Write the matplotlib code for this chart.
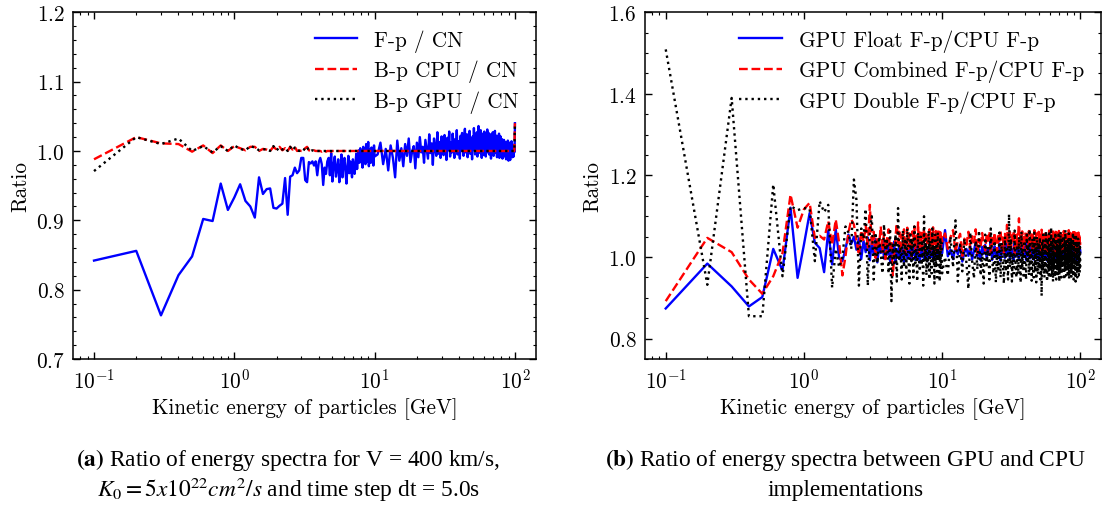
import numpy as np
import matplotlib
matplotlib.use("Agg")
import matplotlib.pyplot as plt
from matplotlib.ticker import AutoMinorLocator

# energy grids [GeV]
energy_fine = np.arange(1, 101) / 10.0        # 0.1 .. 10.0
energy_coarse = np.arange(21, 201) / 2.0      # 10.5 .. 100.0
energy_all = np.concatenate([energy_fine, energy_coarse])
energy_bp = np.concatenate([energy_fine[:50], [7, 10, 20, 40, 70, 99, 100]])

# ---- (a) ratios to CN ----
fp_cn = [
    0.842, 0.856, 0.763, 0.821, 0.848, 0.902, 0.899, 0.953, 0.915, 0.933,
    0.952, 0.928, 0.920, 0.904, 0.962, 0.938, 0.945, 0.946, 0.918, 0.917,
    0.921, 0.924, 0.961, 0.908, 0.963, 0.965, 0.976, 0.968, 0.972, 0.990,
    0.990, 0.958, 0.955, 0.984, 0.982, 0.985, 0.979, 0.985, 0.965, 0.984,
    0.990, 0.981, 0.951, 0.976, 0.967, 0.985, 0.990, 0.965, 0.997, 0.956,
    0.980, 0.992, 0.963, 0.975, 0.988, 0.955, 0.971, 0.995, 0.962, 0.984,
    0.990, 0.970, 0.953, 0.978, 0.993, 0.968, 0.985, 0.975, 0.962, 0.988,
    0.979, 0.967, 0.982, 0.996, 0.974, 0.990, 1.001, 0.983, 1.004, 0.987,
    0.995, 0.976, 1.006, 0.990, 0.999, 0.981, 1.010, 0.992, 0.985, 1.013,
    0.978, 1.002, 0.994, 0.983, 1.005, 0.989, 0.998, 0.979, 1.008, 0.992,
    0.995, 1.012, 0.981, 1.003, 0.972, 1.008, 0.990, 0.962, 1.015, 0.986,
    1.004, 0.978, 1.010, 0.993, 1.018, 0.984, 0.999, 1.007, 0.975, 1.012,
    0.991, 1.020, 0.998, 1.006, 0.983, 1.016, 1.002, 0.989, 1.024, 0.997,
    1.011, 0.980, 1.018, 1.004, 0.993, 1.027, 0.996, 1.013, 0.990, 1.021,
    1.005, 0.994, 1.023, 1.009, 0.987, 1.019, 1.001, 1.028, 0.992, 1.012,
    0.998, 1.025, 1.006, 0.990, 1.017, 1.003, 1.030, 0.995, 1.014, 1.008,
    0.989, 1.022, 1.000, 1.026, 1.007, 0.993, 1.019, 1.032, 0.998, 1.011,
    1.024, 0.991, 1.015, 1.004, 1.029, 0.996, 1.018, 1.009, 0.988, 1.021,
    1.002, 1.033, 1.010, 0.995, 1.023, 1.006, 1.027, 0.992, 1.016, 1.036,
    1.003, 1.020, 0.997, 1.030, 1.011, 0.990, 1.025, 1.005, 1.019, 0.994,
    1.028, 1.008, 1.014, 0.992, 1.022, 1.001, 1.031, 0.998, 1.012, 1.026,
    0.995, 1.017, 1.004, 1.024, 0.989, 1.013, 1.020, 0.999, 1.027, 1.006,
    0.993, 1.018, 1.009, 1.029, 0.997, 1.015, 1.002, 1.022, 0.991, 1.011,
    1.019, 0.996, 1.008, 1.025, 0.990, 1.014, 1.003, 1.021, 0.994, 1.010,
    1.001, 1.017, 0.989, 1.012, 1.006, 0.995, 1.016, 0.999, 1.009, 0.992,
    1.013, 1.002, 0.988, 1.011, 0.997, 1.007, 0.990, 1.015, 1.000, 0.986,
    1.008, 0.994, 1.012, 0.999, 0.987, 1.010, 1.003, 0.993, 1.014, 0.998,
    1.006, 0.991, 1.009, 0.996, 1.004, 0.992, 1.007, 0.998, 1.002, 1.040,
]
bp_cpu_cn = [
    0.988, 1.020, 1.011, 1.010, 0.999, 1.008, 0.997, 1.008, 1.000, 1.007,
    1.004, 1.001, 1.006, 1.006, 1.000, 1.003, 1.002, 1.000, 1.006, 1.002,
    1.006, 1.001, 1.004, 1.000, 1.006, 1.002, 1.006, 1.000, 1.001, 1.000,
    1.000, 1.004, 1.006, 1.001, 1.000, 1.000, 1.001, 1.000, 1.000, 1.000,
    1.000, 0.999, 1.000, 1.000, 0.999, 1.000, 1.000, 1.000, 0.999, 1.000,
    1.000, 1.000, 1.000, 1.000, 1.000, 1.000, 1.040,
]
bp_gpu_cn = [
    0.971, 1.020, 1.010, 1.018, 1.000, 1.007, 0.998, 1.007, 1.000, 1.008,
    1.003, 1.001, 1.007, 1.005, 1.001, 1.002, 1.003, 1.000, 1.007, 1.001,
    1.005, 1.002, 1.004, 1.000, 1.006, 1.001, 1.005, 1.001, 1.000, 1.001,
    1.000, 1.005, 1.006, 1.000, 1.000, 1.001, 1.000, 1.000, 1.000, 1.000,
    1.000, 1.000, 1.000, 1.000, 1.000, 1.000, 1.000, 1.000, 1.000, 1.000,
    1.000, 1.000, 1.000, 1.000, 1.000, 1.000, 1.038,
]

# ---- (b) GPU / CPU F-p ----
gpu_float = [
    0.874, 0.984, 0.928, 0.879, 0.902, 1.020, 0.967, 1.121, 0.949, 1.030,
    1.108, 1.035, 1.022, 0.963, 1.065, 0.982, 1.068, 0.998, 0.990, 1.020,
    1.055, 1.032, 1.050, 1.018, 1.046, 0.995, 1.040, 1.012, 1.048, 0.992,
    1.035, 1.005, 1.044, 0.987, 1.028, 1.010, 1.041, 0.996, 1.022, 1.006,
    1.033, 0.990, 1.025, 1.008, 1.038, 0.985, 1.019, 1.002, 1.030, 0.994,
    1.027, 1.005, 0.988, 1.034, 1.012, 0.996, 1.024, 1.003, 1.040, 0.991,
    1.018, 1.006, 1.029, 0.993, 1.015, 1.036, 0.999, 1.021, 0.987, 1.011,
    1.026, 1.002, 1.017, 0.995, 1.031, 1.008, 1.020, 0.990, 1.013, 1.004,
    1.023, 0.998, 1.010, 1.028, 1.001, 1.016, 0.992, 1.022, 1.007, 1.014,
    0.996, 1.019, 1.005, 1.027, 0.999, 1.011, 1.024, 1.002, 1.015, 1.009,
    1.066, 1.002, 1.018, 0.995, 1.024, 1.007, 1.031, 0.989, 1.012, 1.020,
    1.003, 1.027, 0.994, 1.015, 1.038, 1.001, 1.019, 0.992, 1.025, 1.008,
    1.030, 0.997, 1.021, 1.009, 1.042, 0.993, 1.014, 1.026, 1.000, 1.017,
    1.005, 1.033, 0.991, 1.019, 1.010, 1.028, 0.998, 1.036, 1.004, 1.016,
    1.022, 0.995, 1.029, 1.007, 1.018, 0.990, 1.034, 1.011, 1.002, 1.025,
    1.013, 0.996, 1.031, 1.006, 1.020, 1.040, 0.999, 1.017, 1.008, 1.027,
    0.993, 1.019, 1.035, 1.003, 1.024, 1.011, 0.997, 1.030, 1.015, 1.006,
    1.028, 0.994, 1.021, 1.009, 1.037, 1.001, 1.016, 1.025, 0.992, 1.018,
    1.010, 1.032, 0.998, 1.023, 1.005, 1.029, 1.013, 0.995, 1.020, 1.034,
    1.002, 1.026, 1.008, 1.017, 0.991, 1.031, 1.012, 1.024, 0.999, 1.019,
    1.036, 1.004, 1.022, 0.996, 1.028, 1.011, 1.018, 1.039, 1.000, 1.014,
    1.025, 0.993, 1.020, 1.007, 1.033, 1.015, 0.997, 1.026, 1.009, 1.021,
    1.003, 1.030, 1.012, 0.994, 1.024, 1.017, 1.035, 1.001, 1.019, 1.008,
    1.027, 0.996, 1.014, 1.031, 1.005, 1.022, 0.990, 1.018, 1.029, 1.010,
    0.998, 1.023, 1.012, 1.034, 1.004, 1.019, 1.026, 0.995, 1.016, 1.008,
    1.030, 1.001, 1.021, 1.013, 0.993, 1.027, 1.009, 1.036, 1.003, 1.018,
    1.011, 1.025, 0.997, 1.020, 1.032, 1.006, 1.015, 0.992, 1.028, 1.010,
    1.022, 1.004, 1.017, 1.030, 0.998, 1.013, 1.026, 1.007, 1.019, 1.012,
]
gpu_combined = [
    0.892, 1.047, 1.012, 0.945, 0.910, 0.953, 1.010, 1.153, 1.072, 1.117,
    1.133, 1.047, 1.052, 1.043, 1.088, 1.030, 1.092, 1.034, 0.955, 1.002,
    1.060, 1.092, 1.080, 1.040, 1.005, 1.065, 1.038, 1.078, 1.020, 1.128,
    1.025, 1.062, 0.998, 1.050, 1.030, 1.075, 1.012, 1.058, 0.990, 1.045,
    1.068, 1.015, 1.040, 0.955, 1.005, 1.050, 1.082, 1.035, 1.062, 1.010,
    1.055, 1.030, 1.068, 1.008, 1.045, 1.072, 1.020, 1.058, 1.035, 1.002,
    1.063, 1.040, 1.075, 1.018, 1.052, 1.030, 1.085, 1.012, 1.048, 1.066,
    1.025, 1.058, 1.040, 1.070, 1.005, 1.049, 1.062, 1.028, 1.055, 1.036,
    1.068, 1.015, 1.046, 1.059, 1.022, 1.073, 1.038, 1.051, 1.010, 1.064,
    1.033, 1.057, 1.019, 1.069, 1.042, 1.028, 1.061, 1.011, 1.050, 1.037,
    1.058, 1.020, 1.049, 1.066, 1.012, 1.041, 1.057, 1.003, 1.045, 1.030,
    1.062, 1.018, 1.051, 1.036, 1.068, 1.009, 1.044, 1.025, 1.059, 1.032,
    1.016, 1.054, 1.040, 1.063, 1.006, 1.047, 1.028, 1.060, 1.035, 1.013,
    1.052, 1.039, 1.065, 1.021, 1.048, 1.010, 1.057, 1.031, 1.079, 1.024,
    1.046, 1.061, 1.015, 1.053, 1.034, 1.064, 1.008, 1.042, 1.055, 1.027,
    1.050, 1.095, 1.022, 1.058, 1.037, 1.063, 1.011, 1.049, 1.029, 1.060,
    1.043, 1.018, 1.056, 1.032, 1.064, 1.005, 1.047, 1.038, 1.061, 1.019,
    1.052, 1.027, 1.066, 1.040, 1.013, 1.058, 1.033, 1.049, 1.020, 1.062,
    1.036, 1.055, 1.009, 1.044, 1.067, 1.024, 1.051, 1.030, 1.059, 1.016,
    1.048, 1.063, 1.026, 1.054, 1.035, 1.011, 1.057, 1.041, 1.065, 1.022,
    1.045, 1.031, 1.060, 1.014, 1.053, 1.038, 1.066, 1.027, 1.049, 1.007,
    1.056, 1.034, 1.062, 1.019, 1.046, 1.058, 1.025, 1.050, 1.037, 1.064,
    1.012, 1.048, 1.059, 1.030, 1.055, 1.021, 1.061, 1.040, 1.016, 1.053,
    1.033, 1.064, 1.026, 1.047, 1.058, 1.009, 1.052, 1.036, 1.063, 1.028,
    1.050, 1.017, 1.057, 1.039, 1.066, 1.023, 1.045, 1.060, 1.031, 1.054,
    1.014, 1.049, 1.062, 1.035, 1.056, 1.020, 1.043, 1.065, 1.029, 1.051,
    1.038, 1.061, 1.010, 1.047, 1.055, 1.032, 1.063, 1.024, 1.052, 1.041,
    1.058, 1.019, 1.046, 1.060, 1.034, 1.053, 1.027, 1.048, 1.039, 1.030,
]
gpu_double = [
    1.509, 0.932, 1.390, 0.855, 0.855, 1.178, 0.953, 1.125, 1.115, 1.120,
    1.118, 0.990, 1.137, 1.110, 1.128, 0.925, 1.020, 0.975, 1.000, 1.075,
    1.060, 1.020, 1.190, 1.140, 0.930, 1.070, 1.045, 1.118, 0.930, 1.065,
    1.100, 0.945, 1.060, 0.985, 1.050, 1.010, 0.960, 1.080, 1.000, 1.040,
    0.960, 1.070, 0.892, 1.030, 0.985, 1.055, 0.940, 1.120, 0.990, 1.025,
    0.945, 1.065, 0.975, 1.040, 0.960, 1.070, 1.005, 0.935, 1.055, 0.990,
    1.045, 0.950, 1.075, 0.985, 1.020, 0.940, 1.060, 1.000, 0.965, 1.050,
    0.980, 1.035, 0.930, 1.100, 0.990, 1.045, 0.955, 1.030, 0.970, 1.065,
    0.945, 1.040, 1.005, 0.960, 1.070, 0.985, 1.025, 0.935, 1.055, 0.975,
    1.030, 0.950, 1.060, 0.995, 1.015, 0.940, 1.048, 0.970, 1.035, 0.960,
    1.000, 0.955, 1.050, 0.975, 1.090, 0.940, 1.030, 0.965, 1.045, 0.985,
    0.922, 1.060, 0.990, 0.948, 1.040, 0.970, 1.065, 0.955, 1.010, 0.935,
    1.055, 0.980, 1.025, 0.945, 1.070, 0.995, 0.960, 1.040, 0.938, 1.015,
    0.970, 1.060, 0.950, 1.035, 0.990, 0.935, 1.050, 0.965, 1.020, 0.945,
    1.105, 0.975, 1.045, 0.940, 1.010, 0.960, 1.065, 0.985, 0.950, 1.030,
    0.958, 1.050, 0.990, 0.937, 1.062, 0.972, 1.020, 0.948, 1.040, 0.980,
    0.945, 1.055, 0.985, 1.030, 0.955, 1.068, 0.970, 1.010, 0.942, 1.045,
    0.988, 0.950, 1.060, 0.965, 1.025, 0.938, 1.050, 0.992, 0.958, 1.035,
    0.972, 1.048, 0.945, 1.015, 0.905, 1.040, 0.968, 1.055, 0.982, 0.950,
    1.030, 0.960, 1.064, 0.978, 0.940, 1.045, 0.995, 0.955, 1.058, 0.970,
    1.020, 0.948, 1.072, 0.985, 0.962, 1.038, 0.940, 1.050, 0.975, 1.010,
    0.952, 1.060, 0.990, 0.945, 1.042, 0.970, 1.025, 0.958, 1.055, 0.980,
    0.940, 1.035, 0.965, 1.062, 0.988, 0.950, 1.048, 0.975, 1.015, 0.960,
    1.052, 0.982, 0.944, 1.040, 0.968, 1.066, 0.990, 0.955, 1.030, 0.972,
    1.045, 0.958, 1.018, 0.985, 1.058, 0.946, 1.035, 0.978, 0.962, 1.050,
    0.990, 0.952, 1.040, 0.970, 1.025, 0.960, 1.060, 0.983, 0.945, 1.030,
    0.975, 1.048, 0.958, 1.012, 0.940, 1.055, 0.985, 0.965, 1.038, 0.950,
    1.020, 0.968, 1.045, 0.980, 0.955, 1.035, 0.990, 0.962, 1.025, 0.975,
]

plt.rcParams.update({
    "font.family": "serif",
    "font.serif": ["cmr10"],
    "mathtext.fontset": "cm",
    "axes.formatter.use_mathtext": True,
    "font.size": 15.3,
    "axes.linewidth": 1.1,
    "xtick.direction": "in",
    "ytick.direction": "in",
    "xtick.top": True,
    "ytick.right": True,
    "xtick.major.size": 5,
    "ytick.major.size": 5,
    "xtick.minor.size": 2.5,
    "ytick.minor.size": 2.5,
    "xtick.major.width": 1.0,
    "ytick.major.width": 1.0,
    "xtick.minor.width": 0.8,
    "ytick.minor.width": 0.8,
    "xtick.major.pad": 6,
    "ytick.major.pad": 6,
    "legend.frameon": False,
})

fig = plt.figure(figsize=(11.09, 5.10), dpi=100)
ax1 = fig.add_axes([0.0658, 0.294, 0.4175, 0.680])
ax2 = fig.add_axes([0.5816, 0.294, 0.4112, 0.680])

lw = 1.7
ax1.plot(energy_all, fp_cn, color="b", lw=lw, label="F-p / CN")
ax1.plot(energy_bp, bp_cpu_cn, color="r", lw=lw, ls="--", label="B-p CPU / CN")
ax1.plot(energy_bp, bp_gpu_cn, color="k", lw=lw, ls=":", label="B-p GPU / CN")
ax1.set_ylim(0.7, 1.2)

ax2.plot(energy_all, gpu_float, color="b", lw=lw, label="GPU Float F-p/CPU F-p")
ax2.plot(energy_all, gpu_combined, color="r", lw=lw, ls="--",
         label="GPU Combined F-p/CPU F-p")
ax2.plot(energy_all, gpu_double, color="k", lw=lw, ls=":",
         label="GPU Double F-p/CPU F-p")
ax2.set_ylim(0.75, 1.6)

for ax in (ax1, ax2):
    ax.set_xscale("log")
    ax.yaxis.set_minor_locator(AutoMinorLocator())
    ax.set_xlabel("Kinetic energy of particles [GeV]")
    ax.set_ylabel("Ratio")
    ax.legend(loc="upper right", handlelength=2.0, labelspacing=0.38,
              borderaxespad=0.4)

cap = dict(family="Liberation Serif", fontsize=16.8, math_fontfamily="stix",
           ha="center", va="center")
fig.text(0.26, 0.098, r"$\mathbf{(a)}$ Ratio of energy spectra for V = 400 km/s,", **cap)
fig.text(0.26, 0.039, r"$K_0 = 5x10^{22}cm^2/s$ and time step dt = 5.0s", **cap)
fig.text(0.762, 0.098, r"$\mathbf{(b)}$ Ratio of energy spectra between GPU and CPU", **cap)
fig.text(0.762, 0.039, "implementations", **cap)

fig.savefig("out.png", dpi=100)
